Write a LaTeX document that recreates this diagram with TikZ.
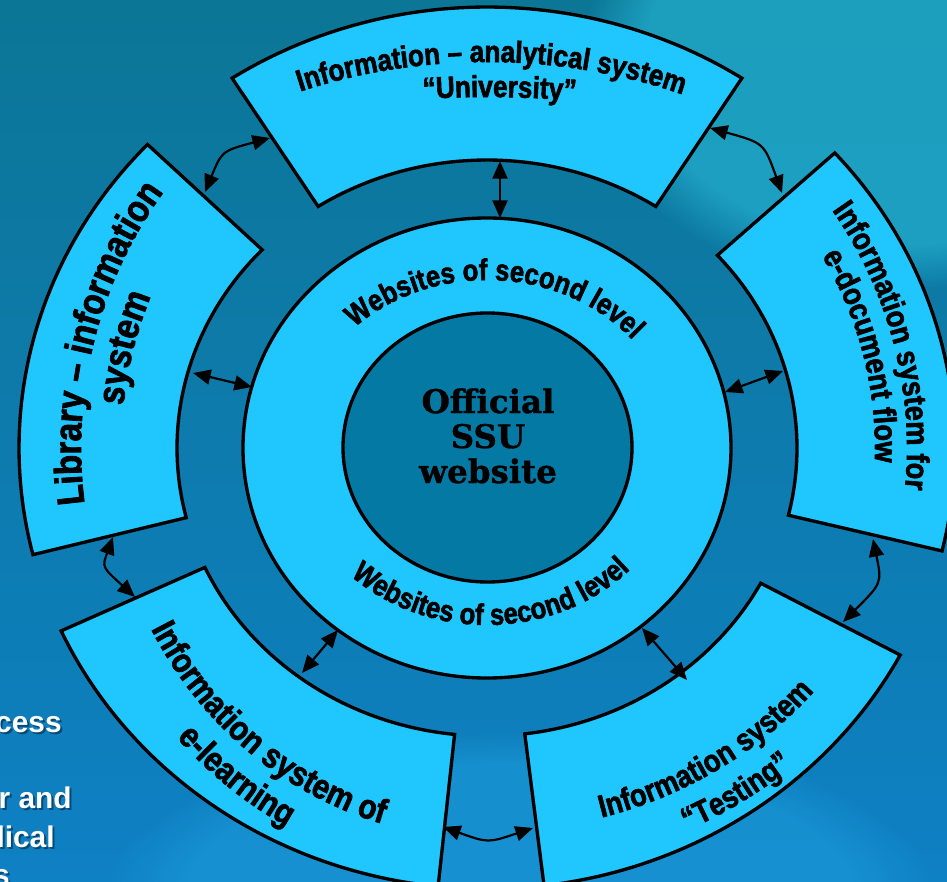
\documentclass[tikz,border=0pt]{standalone}
\usepackage{fontspec}
\setmainfont{Liberation Sans}
\newfontfamily\cnd[FakeStretch=0.86,BoldFeatures={FakeBold=2}]{Liberation Sans}
\newfontfamily\ser[BoldFeatures={FakeBold=1}]{DejaVu Serif}
\usetikzlibrary{arrows.meta,decorations.text,fadings}
\definecolor{segcyan}{RGB}{31,199,254}
\definecolor{coredark}{RGB}{4,121,164}
\definecolor{bgA}{RGB}{12,118,150}
\definecolor{bgB}{RGB}{5,82,120}
\definecolor{bgC}{RGB}{14,128,196}
\definecolor{glowA}{RGB}{40,185,215}
\definecolor{glowB}{RGB}{30,160,222}
\definecolor{shadowc}{RGB}{0,40,70}
\newcommand\ringfont{\cnd\bfseries\fontsize{17}{20}\selectfont}
\newcommand\toplblfont{\cnd\bfseries\fontsize{17.3}{21}\selectfont}
\newcommand\liblblfont{\cnd\bfseries\fontsize{21.8}{25}\selectfont}
\newcommand\rtlblfont{\cnd\bfseries\fontsize{18}{22}\selectfont}
\newcommand\tstlblfont{\cnd\bfseries\fontsize{18}{22}\selectfont}
\newcommand\elrlblfont{\cnd\bfseries\fontsize{19.7}{23}\selectfont}
\tikzset{
  seg/.style={fill=segcyan, draw=black, line width=1.9pt, line join=miter},
  biarrow/.style={{Triangle[length=10pt,width=8.5pt]}-{Triangle[length=10pt,width=8.5pt]}, line width=1.25pt, draw=black},
  curvetext/.style={decorate, decoration={text along path, text align=center, text={#1}}},
  bgtext/.style={font=\bfseries\fontsize{17}{20}\selectfont, text=white, anchor=base east, inner sep=0pt},
  bgshadow/.style={bgtext, text=shadowc, opacity=0.6},
  corefont/.style={font=\ser\bfseries\fontsize{18.5}{20}\selectfont, anchor=base, inner sep=0pt}
}
\begin{document}
\begin{tikzpicture}[x=0.02cm,y=-0.02cm]
\useasboundingbox (0,0) rectangle (947,882);
\clip (0,0) rectangle (947,882);
% background
\fill[top color=bgA, middle color=bgB, bottom color=bgC] (0,0) rectangle (947,882);
\fill[glowA, opacity=0.6, path fading=circle with fuzzy edge 20 percent] (900,60) ellipse [x radius=320, y radius=230];
\fill[glowB, opacity=0.5, path fading=circle with fuzzy edge 20 percent] (520,900) ellipse [x radius=420, y radius=170];
% background slide text fragments
\node[bgshadow] (s1) at (64,734) {cess};
\node[bgtext] (t1) at (62,732) {cess};
\node[bgshadow] (s2) at (74,810) {r and};
\node[bgtext] (t2) at (72,808) {r and};
\node[bgshadow] (s3) at (57,849) {lical};
\node[bgtext] (t3) at (55,847) {lical};
\node[bgshadow] (s4) at (12,887) {s};
\node[bgtext] (t4) at (10,885) {s};
% segments
\filldraw[seg] plot[domain=57:123,samples=50] ({487+468*cos(\x)},{448-441*sin(\x)}) -- plot[domain=123:57,samples=50] ({487+310*cos(\x)},{448-288*sin(\x)}) -- cycle;
\filldraw[seg] plot[domain=136.5:194,samples=50] ({487+468*cos(\x)},{448-441*sin(\x)}) -- plot[domain=194:136.5,samples=50] ({487+310*cos(\x)},{448-288*sin(\x)}) -- cycle;
\filldraw[seg] plot[domain=-13.5:42,samples=50] ({487+468*cos(\x)},{448-441*sin(\x)}) -- plot[domain=42:-13.5,samples=50] ({487+310*cos(\x)},{448-288*sin(\x)}) -- cycle;
\filldraw[seg] plot[domain=-83:-28,samples=50] ({487+468*cos(\x)},{448-441*sin(\x)}) -- plot[domain=-28:-83,samples=50] ({487+310*cos(\x)},{448-288*sin(\x)}) -- cycle;
\filldraw[seg] plot[domain=204.5:264,samples=50] ({487+468*cos(\x)},{448-441*sin(\x)}) -- plot[domain=264:204.5,samples=50] ({487+310*cos(\x)},{448-288*sin(\x)}) -- cycle;
% ring and core
\filldraw[seg] (487,448) ellipse [x radius=244, y radius=230];
\filldraw[fill=coredark, draw=black, line width=1.9pt] (487.5,447.5) ellipse [x radius=144.5, y radius=134.5];
\node[corefont] (c1) at (488,413) {Official};
\node[corefont] (c2) at (488,448) {SSU};
\node[corefont] (c3) at (488,483) {website};
% ring texts
\path[curvetext={|\ringfont|Websites of second level}] plot[domain=147:27,samples=90] ({487+190*cos(\x)},{448-168*sin(\x)});
\path[curvetext={|\ringfont|Websites of second level}] plot[domain=211.5:331.5,samples=90] ({487+197*cos(\x)},{448-177*sin(\x)});
% segment labels
\path[curvetext={|\toplblfont|Information – analytical system}] plot[domain=129.4:49.4,samples=90] ({487+487*cos(\x)},{448-386*sin(\x)});
\path[curvetext={|\toplblfont|“University”}] plot[domain=98.8:78.8,samples=40] ({487+600*cos(\x)},{448-351*sin(\x)});
\path[curvetext={|\liblblfont|Library – information}] plot[domain=205:125,samples=90] ({487+406*cos(\x)},{448-423*sin(\x)});
\path[curvetext={|\liblblfont|system}] plot[domain=195:135,samples=60] ({487+366*cos(\x)},{448-383*sin(\x)});
\path[curvetext={|\rtlblfont|Information system for}] plot[domain=55:-26,samples=90] ({487+420*cos(\x)},{448-417*sin(\x)});
\path[curvetext={|\rtlblfont|e-document flow}] plot[domain=50:-22,samples=90] ({487+388*cos(\x)},{448-380*sin(\x)});
\path[curvetext={|\tstlblfont|Information system}] plot[domain=-96:-16,samples=90] ({487+423*cos(\x)},{448-384*sin(\x)});
\path[curvetext={|\tstlblfont|“Testing”}] plot[domain=-86:-26,samples=60] ({487+463*cos(\x)},{448-424*sin(\x)});
\path[curvetext={|\elrlblfont|Information system of}] plot[domain=191:271,samples=90] ({487+379*cos(\x)},{448-391*sin(\x)});
\path[curvetext={|\elrlblfont|e-learning}] plot[domain=202:262,samples=60] ({487+419*cos(\x)},{448-431*sin(\x)});
% arrow end points
\coordinate (a1s) at (270,138); \coordinate (a1e) at (205,192);
\coordinate (a2s) at (710,128); \coordinate (a2e) at (782,193);
\coordinate (a3s) at (500,161); \coordinate (a3e) at (500,218);
\coordinate (a4s) at (193,373); \coordinate (a4e) at (252,387);
\coordinate (a5s) at (725,392); \coordinate (a5e) at (783,371);
\coordinate (a6s) at (113,537); \coordinate (a6e) at (135,597);
\coordinate (a7s) at (873,539); \coordinate (a7e) at (843,622);
\coordinate (a8s) at (338,630); \coordinate (a8e) at (302,673);
\coordinate (a9s) at (642,628); \coordinate (a9e) at (687,680);
\coordinate (a10s) at (443,827); \coordinate (a10e) at (533,828);
% arrows
\draw[biarrow] (a1s) .. controls (222,151) .. (a1e);
\draw[biarrow] (a2s) .. controls (764,143) .. (a2e);
\draw[biarrow] (a3s) -- (a3e);
\draw[biarrow] (a4s) -- (a4e);
\draw[biarrow] (a5s) -- (a5e);
\draw[biarrow] (a6s) .. controls (102,567) .. (a6e);
\draw[biarrow] (a7s) .. controls (882,583) .. (a7e);
\draw[biarrow] (a8s) -- (a8e);
\draw[biarrow] (a9s) -- (a9e);
\draw[biarrow] (a10s) .. controls (488,843) .. (a10e);
\end{tikzpicture}
\end{document}
